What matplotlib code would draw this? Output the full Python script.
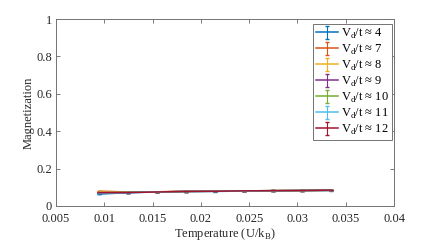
import matplotlib
matplotlib.use('Agg')
import matplotlib.pyplot as plt

plt.rcParams['font.family'] = ['Liberation Serif', 'DejaVu Serif']
plt.rcParams['mathtext.fontset'] = 'custom'
plt.rcParams['mathtext.rm'] = 'Liberation Serif'
plt.rcParams['font.size'] = 9

temps = [0.0095, 0.0125, 0.0155, 0.0185, 0.0215, 0.0245, 0.0275, 0.0305, 0.0335]
vd = [4, 7, 8, 9, 10, 11, 12]
mags = {
    4: [0.064, 0.071, 0.075, 0.077, 0.078, 0.080, 0.081, 0.082, 0.083],
    7: [0.079, 0.075, 0.076, 0.079, 0.080, 0.081, 0.082, 0.083, 0.084],
    8: [0.078, 0.075, 0.076, 0.078, 0.080, 0.081, 0.082, 0.083, 0.084],
    9: [0.072, 0.073, 0.075, 0.078, 0.079, 0.081, 0.082, 0.083, 0.084],
    10: [0.070, 0.073, 0.075, 0.078, 0.079, 0.080, 0.082, 0.083, 0.084],
    11: [0.068, 0.072, 0.075, 0.078, 0.079, 0.080, 0.082, 0.083, 0.084],
    12: [0.071, 0.072, 0.075, 0.078, 0.079, 0.081, 0.082, 0.083, 0.085],
}
errs = [0.0015, 0.001, 0.001, 0.001, 0.001, 0.001, 0.001, 0.001, 0.001]
colors = ['#0072BD', '#D95319', '#EDB120', '#7E2F8E', '#77AC30', '#4DBEEE', '#A2142F']

fig = plt.figure(figsize=(4.36, 2.42), dpi=100)
ax = fig.add_axes([56 / 436, 36 / 242, 338 / 436, 187 / 242])

for v, c in zip(vd, colors):
    ax.errorbar(temps, mags[v], yerr=errs, color=c, lw=1.1, elinewidth=0.8,
                capsize=1.5, label=r'V$_\mathregular{d}$/t ≈ %d' % v)

ax.set_xlim(0.005, 0.04)
ax.set_ylim(0, 1)
ax.set_xticks([0.005, 0.01, 0.015, 0.02, 0.025, 0.03, 0.035, 0.04])
ax.set_xticklabels(['0.005', '0.01', '0.015', '0.02', '0.025', '0.03', '0.035', '0.04'])
ax.set_yticks([0, 0.2, 0.4, 0.6, 0.8, 1])
ax.set_yticklabels(['0', '0.2', '0.4', '0.6', '0.8', '1'])
ax.tick_params(direction='in', length=3, width=0.6, colors='0.4', labelcolor='0.15',
               top=True, right=True)
ax.tick_params(axis='x', pad=5)
ax.tick_params(axis='y', pad=3)
for s in ax.spines.values():
    s.set_color('0.45')
    s.set_linewidth(0.7)
ax.set_xlabel(r'Temperature (U/k$_\mathregular{B}$)', color='0.15', labelpad=1)
ax.set_ylabel('Magnetization', color='0.15', labelpad=1)

leg = ax.legend(loc='upper right', bbox_to_anchor=(0.994, 0.975), borderaxespad=0,
                fancybox=False, edgecolor='0.45', handlelength=1.8, handletextpad=0.2,
                labelspacing=0.15, borderpad=0.25, framealpha=1)
leg.get_frame().set_linewidth(0.7)

fig.savefig('out.png', dpi=100)
